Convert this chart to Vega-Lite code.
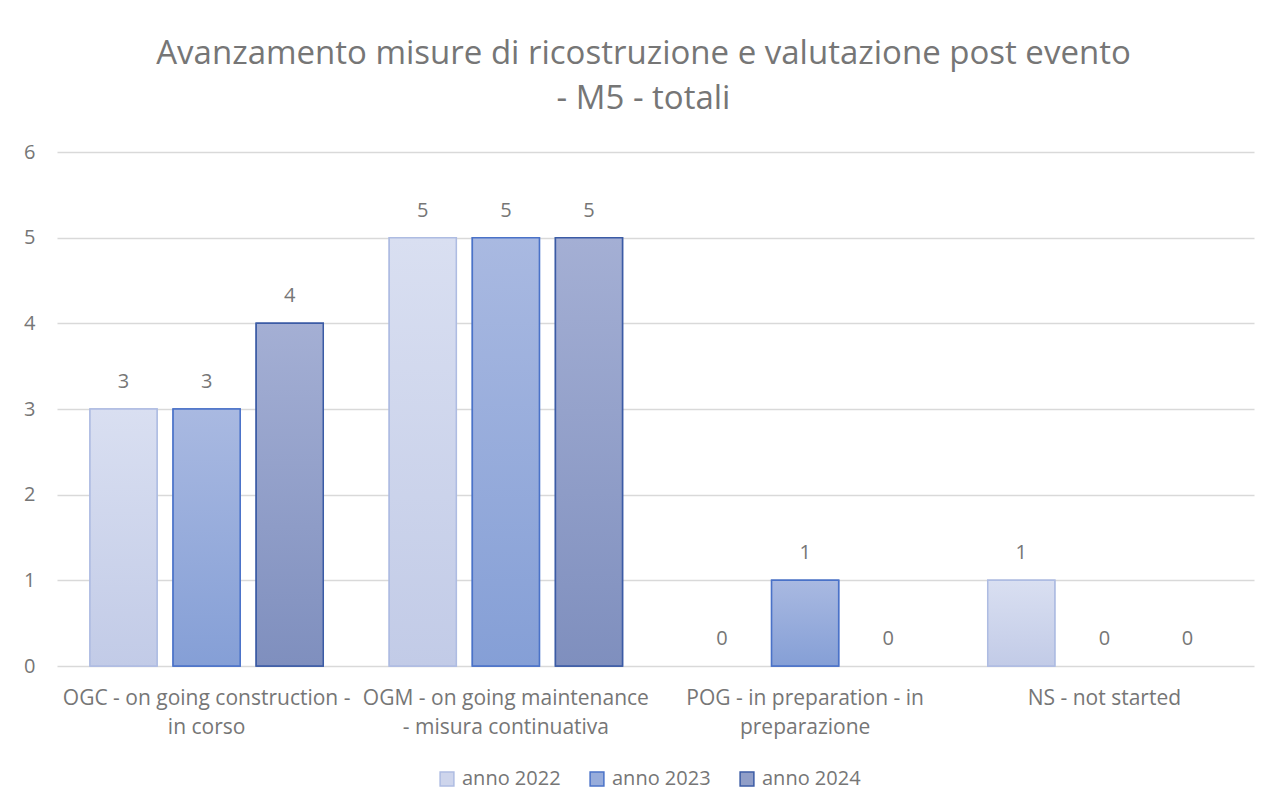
{
  "$schema": "https://vega.github.io/schema/vega-lite/v6.json",
  "autosize": {"type": "none"},
  "width": 1197,
  "height": 514,
  "padding": {"left": 57, "top": 152, "right": 28, "bottom": 145},
  "background": "white",
  "config": {
    "font": "Open Sans",
    "view": {"stroke": null}
  },
  "title": {
    "text": ["Avanzamento misure di ricostruzione e valutazione post evento", "- M5 - totali"],
    "fontSize": 33,
    "fontWeight": "normal",
    "color": "#767676",
    "font": "Open Sans",
    "lineHeight": 45,
    "anchor": "middle",
    "offset": 26,
    "dx": -12
  },
  "data": {
    "values": [
      {"cat": "OGC - on going construction -|in corso", "year": "anno 2022", "value": 3},
      {"cat": "OGC - on going construction -|in corso", "year": "anno 2023", "value": 3},
      {"cat": "OGC - on going construction -|in corso", "year": "anno 2024", "value": 4},
      {"cat": "OGM - on going maintenance|- misura continuativa", "year": "anno 2022", "value": 5},
      {"cat": "OGM - on going maintenance|- misura continuativa", "year": "anno 2023", "value": 5},
      {"cat": "OGM - on going maintenance|- misura continuativa", "year": "anno 2024", "value": 5},
      {"cat": "POG - in preparation - in|preparazione", "year": "anno 2022", "value": 0},
      {"cat": "POG - in preparation - in|preparazione", "year": "anno 2023", "value": 1},
      {"cat": "POG - in preparation - in|preparazione", "year": "anno 2024", "value": 0},
      {"cat": "NS - not started", "year": "anno 2022", "value": 1},
      {"cat": "NS - not started", "year": "anno 2023", "value": 0},
      {"cat": "NS - not started", "year": "anno 2024", "value": 0}
    ]
  },
  "encoding": {
    "x": {
      "field": "cat",
      "type": "nominal",
      "sort": null,
      "scale": {"paddingInner": 0, "paddingOuter": 0},
      "axis": {
        "title": null,
        "labelAngle": 0,
        "labelExpr": "split(datum.label, '|')",
        "labelFontSize": 21,
        "labelColor": "#767676",
        "labelPadding": 21,
        "labelLineHeight": 29,
        "labelBaseline": "top",
        "domain": false,
        "ticks": false,
        "labelLimit": 400
      }
    },
    "xOffset": {
      "field": "year",
      "type": "nominal",
      "scale": {"domain": ["anno 2022", "anno 2023", "anno 2024"], "paddingInner": 0.193, "paddingOuter": 0.397}
    },
    "y": {
      "field": "value",
      "type": "quantitative",
      "scale": {"domain": [0, 6]},
      "axis": {
        "title": null,
        "values": [0, 1, 2, 3, 4, 5, 6],
        "labelFontSize": 20,
        "labelColor": "#767676",
        "labelPadding": 22,
        "domain": false,
        "ticks": false,
        "gridColor": "#d9d9d9",
        "gridWidth": 1.3
      }
    }
  },
  "layer": [
    {
      "transform": [{"filter": "datum.value > 0"}],
      "mark": {"type": "bar", "strokeWidth": 1.5},
      "encoding": {
        "fill": {
          "field": "year",
          "type": "nominal",
          "scale": {"domain": ["anno 2022", "anno 2023", "anno 2024"], "range": ["#ced5ec", "#97acdb", "#909ec8"]},
          "legend": {
            "title": null,
            "orient": "none",
            "legendX": 380,
            "legendY": 617,
            "direction": "horizontal",
            "labelFontSize": 20,
            "labelColor": "#767676",
            "symbolType": "square",
            "symbolSize": 190,
            "symbolStrokeWidth": 1.5,
            "columnPadding": 26,
            "labelOffset": 5
          }
        },
        "stroke": {
          "field": "year",
          "type": "nominal",
          "scale": {"domain": ["anno 2022", "anno 2023", "anno 2024"], "range": ["#aebce2", "#4a72c8", "#3b5ba5"]},
          "legend": {
            "title": null,
            "orient": "none",
            "legendX": 380,
            "legendY": 617,
            "direction": "horizontal",
            "labelFontSize": 20,
            "labelColor": "#767676",
            "symbolType": "square",
            "symbolSize": 190,
            "symbolStrokeWidth": 1.5,
            "columnPadding": 26,
            "labelOffset": 5
          }
        }
      }
    },
    {
      "transform": [{"filter": "datum.value > 0 && datum.year == 'anno 2022'"}],
      "mark": {
        "type": "bar",
        "strokeWidth": 1.5,
        "stroke": "#aebce2",
        "fill": {"gradient": "linear", "x1": 0, "y1": 0, "x2": 0, "y2": 1, "stops": [{"offset": 0, "color": "#d9dff1"}, {"offset": 1, "color": "#c2cbe7"}]}
      },
      "encoding": {}
    },
    {
      "transform": [{"filter": "datum.value > 0 && datum.year == 'anno 2023'"}],
      "mark": {
        "type": "bar",
        "strokeWidth": 1.5,
        "stroke": "#4a72c8",
        "fill": {"gradient": "linear", "x1": 0, "y1": 0, "x2": 0, "y2": 1, "stops": [{"offset": 0, "color": "#a9b9e1"}, {"offset": 1, "color": "#859fd6"}]}
      },
      "encoding": {}
    },
    {
      "transform": [{"filter": "datum.value > 0 && datum.year == 'anno 2024'"}],
      "mark": {
        "type": "bar",
        "strokeWidth": 1.5,
        "stroke": "#3b5ba5",
        "fill": {"gradient": "linear", "x1": 0, "y1": 0, "x2": 0, "y2": 1, "stops": [{"offset": 0, "color": "#a4afd4"}, {"offset": 1, "color": "#7f8fbe"}]}
      },
      "encoding": {}
    },
    {
      "mark": {"type": "text", "fontSize": 20, "color": "#767676", "baseline": "middle", "dy": -27},
      "encoding": {
        "text": {"field": "value", "type": "quantitative"}
      }
    }
  ]
}
